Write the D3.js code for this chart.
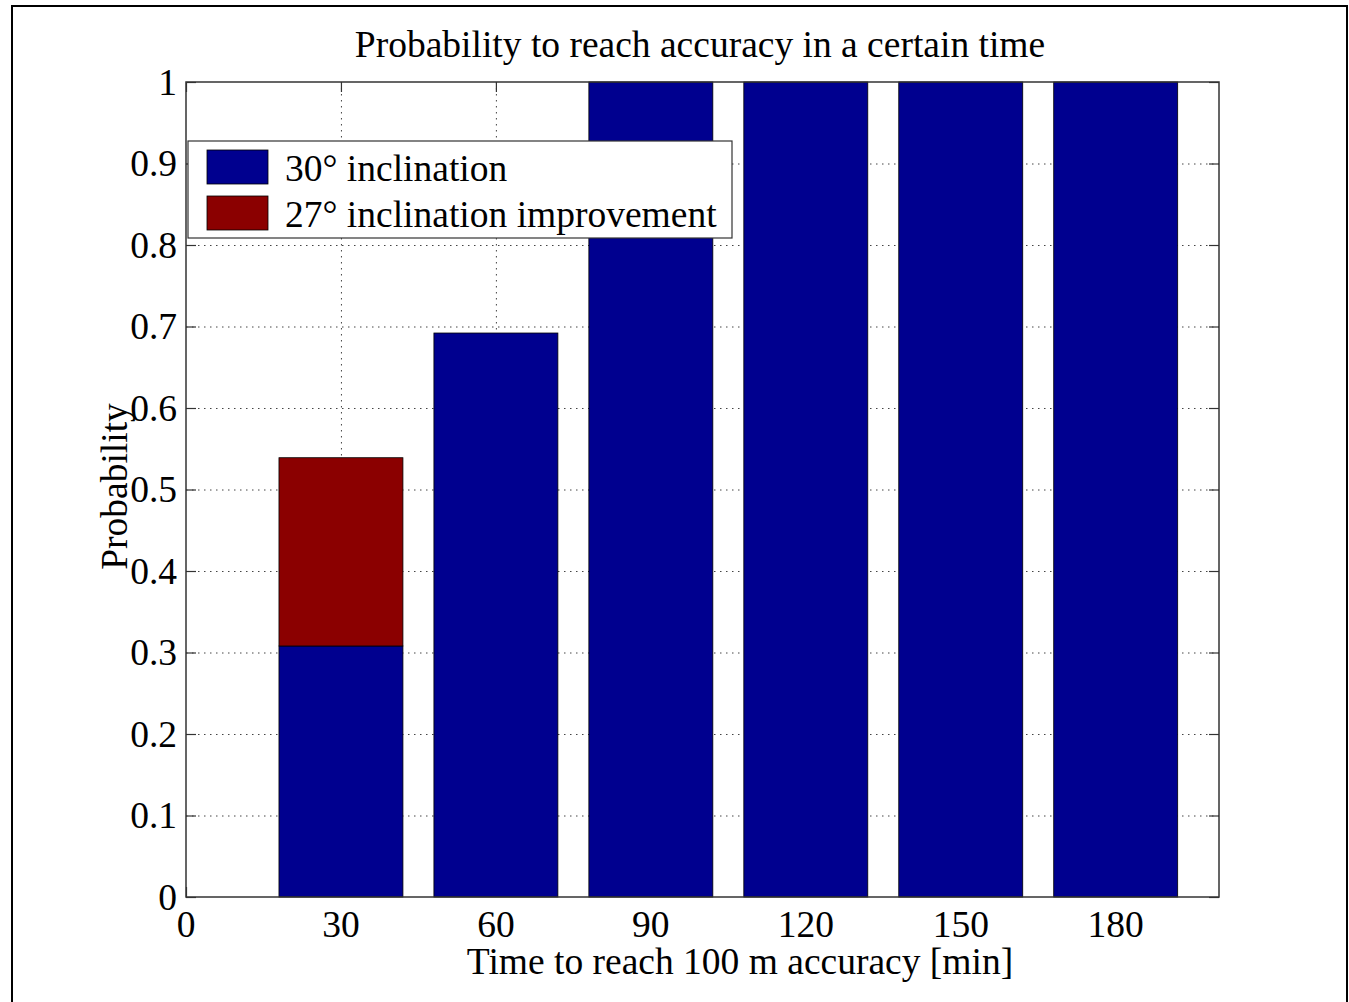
<!DOCTYPE html>
<html>
<head>
<meta charset="utf-8">
<script src="https://cdn.jsdelivr.net/npm/d3@7"></script>
<style>
  html, body { margin: 0; padding: 0; background: #fff; }
  svg { display: block; }
  text { font-family: "Liberation Serif", "Times New Roman", serif; fill: #000; }
</style>
</head>
<body>
<svg id="chart" width="1349" height="1002"></svg>
<script>
// ---- data ----
const categories = [30, 60, 90, 120, 150, 180];
const base30 = [0.308, 0.692, 1, 1, 1, 1];          // 30° inclination
const improvement27 = [0.231, 0, 0, 0, 0, 0];        // 27° inclination improvement
const xTicks = [0, 30, 60, 90, 120, 150, 180];
const yTicks = [0, 0.1, 0.2, 0.3, 0.4, 0.5, 0.6, 0.7, 0.8, 0.9, 1];
const seriesNames = ["30\u00b0 inclination", "27\u00b0 inclination improvement"];
const seriesColors = ["#00008f", "#8b0000"];
const titleText = "Probability to reach accuracy in a certain time";
const xLabelText = "Time to reach 100 m accuracy [min]";
const yLabelText = "Probability";

// ---- layout ----
const FS = 37.5;
const svg = d3.select("#chart");
const L = 186, R = 1219, T = 82, B = 897;
const x = d3.scaleLinear().domain([0, 200]).range([L, R]);
const y = d3.scaleLinear().domain([0, 1]).range([B, T]);
const barW = 24; // in data units (0.8 * spacing of 30)

// outer figure frame
svg.append("rect").attr("x", 12).attr("y", 6).attr("width", 1335).attr("height", 1010)
  .attr("fill", "#fff").attr("stroke", "#000").attr("stroke-width", 2);

// plot background
svg.append("rect").attr("x", L).attr("y", T).attr("width", R - L).attr("height", B - T)
  .attr("fill", "#fff");

// grid (dotted)
const grid = svg.append("g").attr("stroke", "#444").attr("stroke-width", 1)
  .attr("stroke-dasharray", "1.5,4.5");
grid.selectAll("line.gy").data(yTicks.slice(1, -1)).join("line")
  .attr("x1", L).attr("x2", R).attr("y1", d => y(d) + 0.5).attr("y2", d => y(d) + 0.5);
grid.selectAll("line.gx").data(xTicks.slice(1)).join("line")
  .attr("y1", T).attr("y2", B).attr("x1", d => x(d) + 0.5).attr("x2", d => x(d) + 0.5);

// tick marks (inward, all four sides)
const ticks = svg.append("g").attr("stroke", "#333").attr("stroke-width", 1.2);
const tl = 10;
yTicks.forEach(v => {
  ticks.append("line").attr("x1", L).attr("x2", L + tl).attr("y1", y(v) + 0.5).attr("y2", y(v) + 0.5);
  ticks.append("line").attr("x1", R - tl).attr("x2", R).attr("y1", y(v) + 0.5).attr("y2", y(v) + 0.5);
});
xTicks.forEach(v => {
  ticks.append("line").attr("y1", B).attr("y2", B - tl).attr("x1", x(v) + 0.5).attr("x2", x(v) + 0.5);
  ticks.append("line").attr("y1", T).attr("y2", T + tl).attr("x1", x(v) + 0.5).attr("x2", x(v) + 0.5);
});

// stacked bars
const stacked = categories.map((c, i) => ({ c, a: base30[i], b: improvement27[i] }));
const bars = svg.append("g");
bars.selectAll("rect.base").data(stacked).join("rect")
  .attr("x", d => x(d.c - barW / 2)).attr("width", d => x(d.c + barW / 2) - x(d.c - barW / 2))
  .attr("y", d => y(d.a)).attr("height", d => y(0) - y(d.a))
  .attr("fill", seriesColors[0]).attr("stroke", "#000").attr("stroke-width", 0.8);
bars.selectAll("rect.imp").data(stacked.filter(d => d.b > 0)).join("rect")
  .attr("x", d => x(d.c - barW / 2)).attr("width", d => x(d.c + barW / 2) - x(d.c - barW / 2))
  .attr("y", d => y(d.a + d.b)).attr("height", d => y(d.a) - y(d.a + d.b))
  .attr("fill", seriesColors[1]).attr("stroke", "#000").attr("stroke-width", 0.8);

// axes box
svg.append("rect").attr("x", L).attr("y", T).attr("width", R - L).attr("height", B - T)
  .attr("fill", "none").attr("stroke", "#333").attr("stroke-width", 1.5);

// tick labels
svg.append("g").selectAll("text").data(yTicks).join("text")
  .attr("x", 177).attr("y", d => y(d) + 12.5)
  .attr("text-anchor", "end").attr("font-size", FS)
  .text(d => d3.format("~g")(d));
svg.append("g").selectAll("text").data(xTicks).join("text")
  .attr("x", d => x(d)).attr("y", 937)
  .attr("text-anchor", "middle").attr("font-size", FS)
  .text(d => d);

// title and axis labels
svg.append("text").attr("x", 700).attr("y", 57).attr("text-anchor", "middle")
  .attr("font-size", FS).text(titleText);
svg.append("text").attr("x", 740).attr("y", 974).attr("text-anchor", "middle")
  .attr("font-size", FS).text(xLabelText);
svg.append("text").attr("transform", `translate(127,${(T + B) / 2 - 3}) rotate(-90)`)
  .attr("text-anchor", "middle").attr("font-size", FS).text(yLabelText);

// legend
const lg = svg.append("g");
lg.append("rect").attr("x", 188).attr("y", 141).attr("width", 544).attr("height", 97)
  .attr("fill", "#fff").attr("stroke", "#333").attr("stroke-width", 1.2);
seriesNames.forEach((name, i) => {
  const yy = 150 + i * 46;
  lg.append("rect").attr("x", 207).attr("y", yy).attr("width", 61).attr("height", 34)
    .attr("fill", seriesColors[i]).attr("stroke", "#000").attr("stroke-width", 0.8);
  lg.append("text").attr("x", 285).attr("y", yy + 31).attr("font-size", FS).text(name);
});
</script>
</body>
</html>
